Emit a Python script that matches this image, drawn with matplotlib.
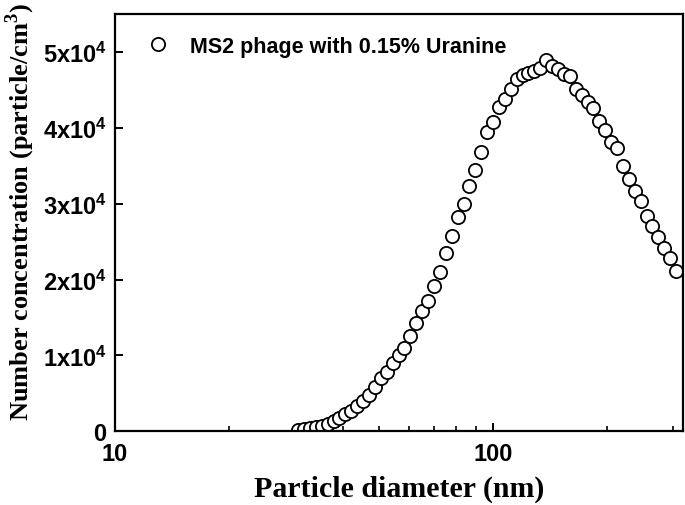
import matplotlib
matplotlib.use("Agg")
import matplotlib.pyplot as plt
from matplotlib.ticker import FixedLocator, FixedFormatter, LogLocator, NullFormatter

plt.rcParams['mathtext.fontset'] = 'custom'
plt.rcParams['mathtext.rm'] = 'Liberation Serif:bold'
plt.rcParams['mathtext.bf'] = 'Liberation Sans:bold'

# Particle diameter (nm)
diameter = [30.51, 31.62, 32.78, 33.98, 35.22, 36.52, 37.86, 39.24, 40.68, 42.17,
            43.71, 45.32, 46.98, 48.70, 50.48, 52.33, 54.25, 56.23, 58.29, 60.43,
            62.64, 64.94, 67.32, 69.78, 72.34, 74.99, 77.74, 80.58, 83.54, 86.60,
            89.77, 93.06, 96.47, 100.0, 103.66, 107.46, 111.40, 115.48, 119.71, 124.09,
            128.64, 133.35, 138.24, 143.30, 148.55, 153.99, 159.63, 165.48, 171.54, 177.83,
            184.35, 191.10, 198.10, 205.35, 212.87, 220.67, 228.76, 237.14, 245.82, 254.83,
            264.16, 273.84, 283.87, 294.27, 305.05]
# Number concentration (x1e4 particle/cm^3)
conc_e4 = [0.02, 0.025, 0.035, 0.05, 0.07, 0.10, 0.13, 0.17, 0.22, 0.27,
           0.33, 0.40, 0.48, 0.58, 0.70, 0.78, 0.90, 1.00, 1.10, 1.25,
           1.42, 1.58, 1.72, 1.92, 2.10, 2.35, 2.58, 2.82, 3.00, 3.24,
           3.45, 3.68, 3.94, 4.08, 4.27, 4.38, 4.51, 4.64, 4.70, 4.73,
           4.75, 4.79, 4.89, 4.82, 4.78, 4.71, 4.69, 4.51, 4.43, 4.34,
           4.26, 4.09, 3.97, 3.82, 3.73, 3.50, 3.32, 3.17, 3.04, 2.84,
           2.71, 2.56, 2.42, 2.28, 2.11]
conc = [v * 1e4 for v in conc_e4]

yticks = [0, 10000, 20000, 30000, 40000, 50000]
ytick_labels = ['0', r'$\mathbf{1x10^4}$', r'$\mathbf{2x10^4}$', r'$\mathbf{3x10^4}$',
                r'$\mathbf{4x10^4}$', r'$\mathbf{5x10^4}$']
xticks = [10, 100]
xtick_labels = ['10', '100']
legend_label = 'MS2 phage with 0.15% Uranine'

fig = plt.figure(figsize=(6.85, 5.06), dpi=100)
ax = fig.add_axes([0.168, 0.146, 0.829, 0.824])

ax.plot(diameter, conc, linestyle='none', marker='o', markersize=9.5,
        markerfacecolor='white', markeredgecolor='black', markeredgewidth=1.3,
        label=legend_label)

ax.set_xscale('log')
ax.set_xlim(10, 318)
ax.set_ylim(0, 55000)

ax.xaxis.set_major_locator(FixedLocator(xticks))
ax.xaxis.set_major_formatter(FixedFormatter(xtick_labels))
ax.xaxis.set_minor_locator(LogLocator(base=10, subs=[2, 3, 4, 5, 6, 7, 8, 9]))
ax.xaxis.set_minor_formatter(NullFormatter())
ax.yaxis.set_major_locator(FixedLocator(yticks))
ax.yaxis.set_major_formatter(FixedFormatter(ytick_labels))

for sp in ax.spines.values():
    sp.set_linewidth(1.6)

ax.tick_params(axis='both', which='major', direction='in', length=6, width=1.4,
               top=False, right=False, pad=6)
ax.tick_params(axis='x', which='major', pad=8)
ax.tick_params(axis='x', which='minor', direction='in', length=3.5, width=1.2, top=False)
for lab in ax.get_xticklabels() + ax.get_yticklabels():
    lab.set_fontfamily('Liberation Sans')
    lab.set_fontweight('bold')
    lab.set_fontsize(17)

ax.set_xlabel('Particle diameter (nm)', fontfamily='Liberation Serif', fontweight='bold',
              fontsize=21.5, labelpad=7)
ax.set_ylabel(r'Number concentration (particle/cm$^{3}$)', fontfamily='Liberation Serif',
              fontweight='bold', fontsize=19, labelpad=4)
ax.yaxis.label.set_y(0.528)

leg = ax.legend(loc='upper left', frameon=False,
                prop={'family': 'Liberation Sans', 'weight': 'bold', 'size': 15.5},
                handletextpad=0.5, borderaxespad=0.5, bbox_to_anchor=(0.003, 0.995))

fig.savefig('out.png', dpi=100)
